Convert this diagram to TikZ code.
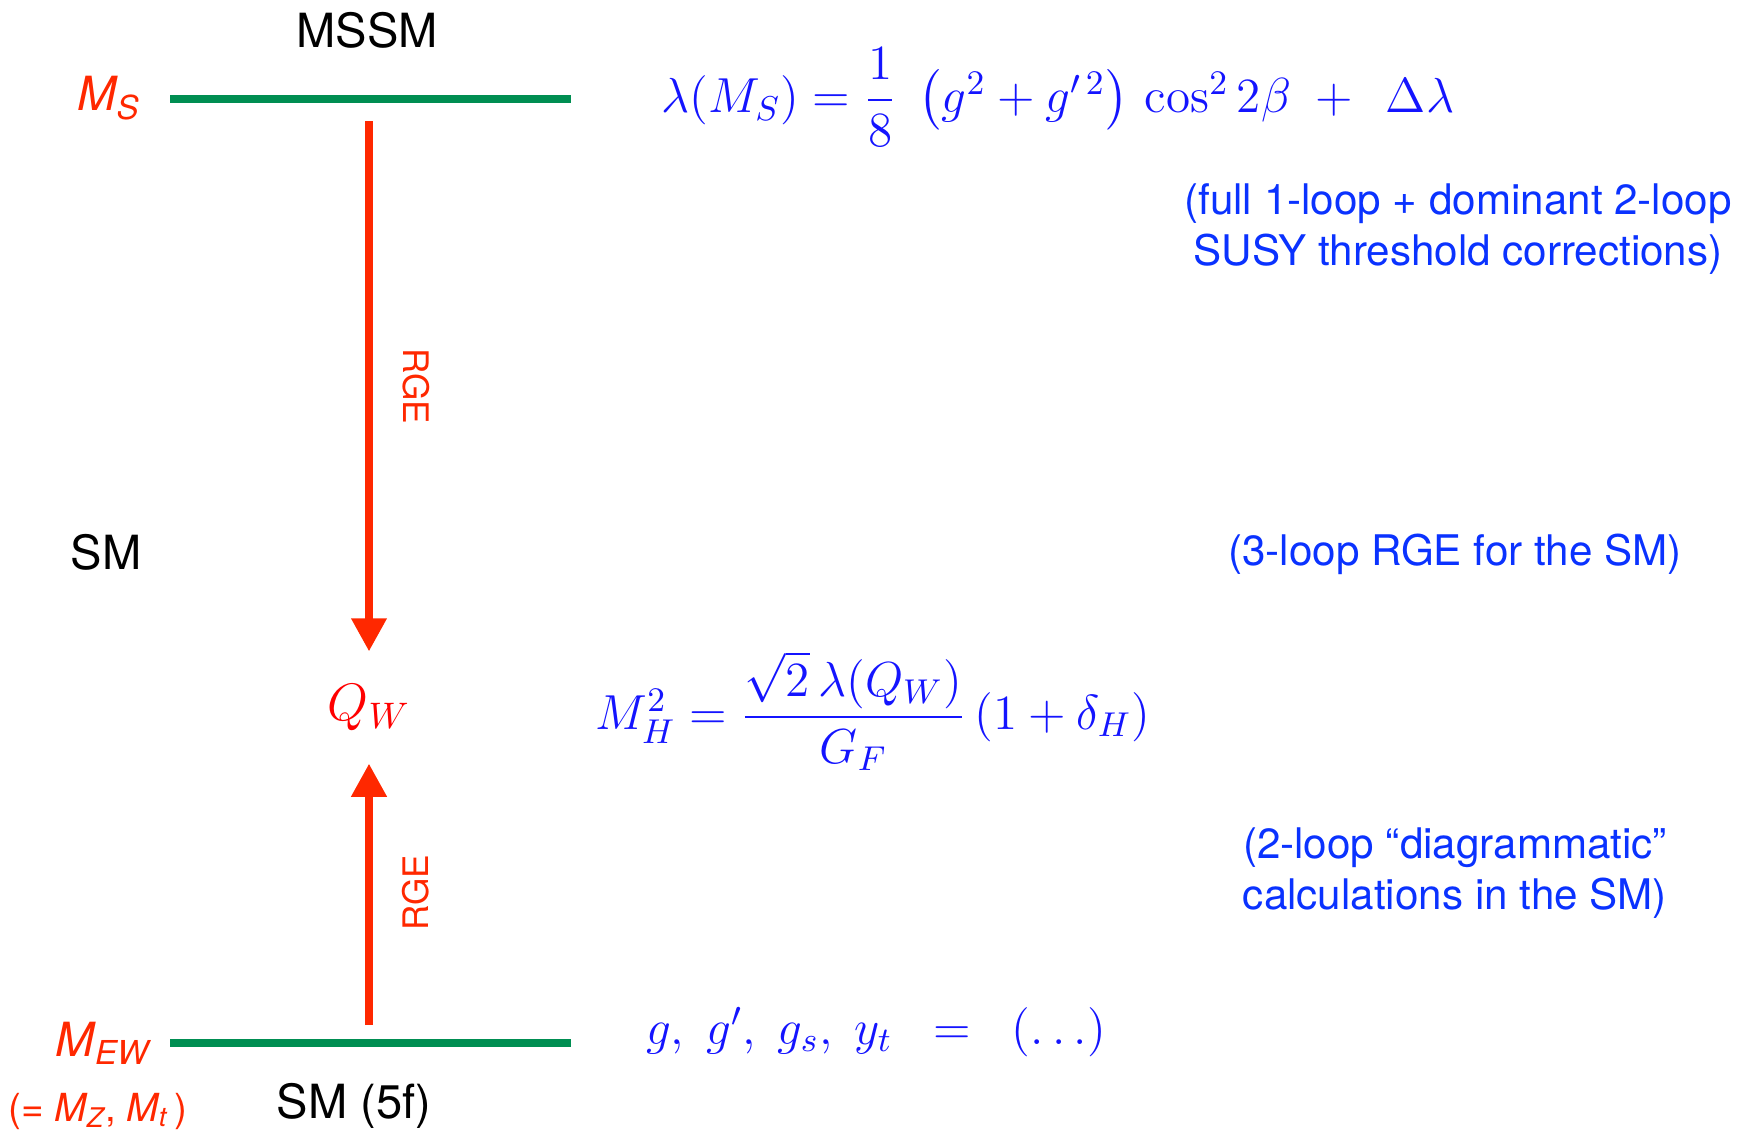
\RequirePackage{fix-cm}
\documentclass[tikz,border=0pt]{standalone}
\usepackage{amsmath}
\usepackage[no-math]{fontspec}
\setmainfont{TeX Gyre Heros}
\usetikzlibrary{positioning,arrows.meta}
\definecolor{lvlgreen}{RGB}{0,142,82}
\definecolor{rgered}{RGB}{255,40,0}
\definecolor{qwred}{RGB}{255,0,0}
\definecolor{eqblue}{RGB}{20,20,255}
\definecolor{noteblue}{RGB}{10,50,255}
\tikzset{
scalebar/.style={draw=lvlgreen,line width=2.1pt},
rgearrow/.style={draw=rgered,line width=2pt,-{Triangle[length=9.4pt,width=9.7pt]}},
scalelab/.style={text=rgered,font=\fontsize{13.4}{16}\selectfont\itshape,inner sep=0pt},
modellab/.style={font=\fontsize{13.4}{16}\selectfont,inner sep=0pt},
rgelab/.style={text=rgered,font=\fontsize{10}{12}\selectfont,inner sep=0pt},
eqn/.style={text=eqblue,font=\fontsize{14}{17}\selectfont,inner sep=0pt},
note/.style={text=noteblue,font=\fontsize{12}{14.3}\selectfont,align=center,inner sep=0pt}
}

\begin{document}
\begin{tikzpicture}[x=0.1mm,y=-0.1mm]
\useasboundingbox (0,0) rectangle (1755,1132);
% scale levels
\coordinate (msL) at (170,99);
\coordinate (msR) at (571,99);
\coordinate (ewL) at (170,1043);
\coordinate (ewR) at (571,1043);
\draw[scalebar] (msL) -- (msR);
\draw[scalebar] (ewL) -- (ewR);
\node[scalelab] (ms) at (109,98) {M\textsubscript{S}};
\node[scalelab] (mew) at (103,1043) {M\textsubscript{EW}};
\node[scalelab,font=\fontsize{11}{13}\selectfont] (mzmt) at (98,1111) {(= \textit{M\textsubscript{Z}}, \textit{M\textsubscript{t}}\,)};
\node[modellab] (mssm) at (367,30) {MSSM};
\node[modellab] (sm) at (106,552) {SM};
\node[modellab] (sm5f) at (354,1106) {SM (5f)};
% running
\node[text=qwred,font=\fontsize{15}{18}\selectfont,minimum height=11.1mm,inner sep=0pt] (qw) at (369,707.5) {$Q_W$};
\coordinate (topstart) at (369,121);
\coordinate (botstart) at (369,1025);
\draw[rgearrow] (topstart) -- (qw.north);
\draw[rgearrow] (botstart) -- (qw.south);
\node[rgelab,rotate=-90] (rgetop) at (416,386) {RGE};
\node[rgelab,rotate=90] (rgebot) at (416,893) {RGE};
% matching conditions
\node[eqn] (eqms) at (1058,97) {$\lambda(M_S) = \dfrac{1}{8}\ \left(g^2 + g^{\prime\,2}\right)\,\cos^2 2\beta\ +\ \,\Delta\lambda$};
\node[eqn] (eqmh) at (873,711) {$M_H^2 = \dfrac{\sqrt{2}\,\lambda(Q_W)}{G_F}\,(1+\delta_H)$};
\node[eqn] (eqew) at (876,1032) {$g,\ g',\ g_s,\ y_t\ \ =\ \ (\ldots)$};
\node[note] (thr) at (1458,229) {(full 1-loop + dominant 2-loop\\SUSY threshold corrections)};
\node[note] (rgenote) at (1455,554) {(3-loop RGE for the SM)};
\node[note] (diag) at (1455,873) {(2-loop “diagrammatic”\\calculations in the SM)};
\end{tikzpicture}
\end{document}
